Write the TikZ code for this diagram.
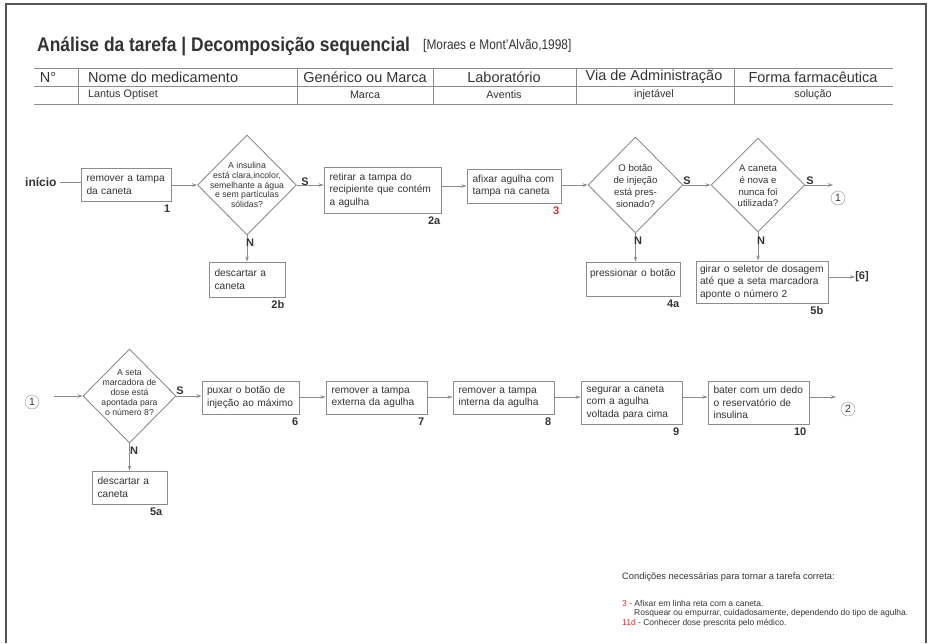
\documentclass[tikz,border=0pt]{standalone}
\usepackage{fontspec}
\setmainfont{Liberation Sans}
\newfontfamily\narrowfont[FakeStretch=0.85]{Liberation Sans}
\newfontfamily\titlefont[FakeStretch=0.88]{Liberation Sans}
\usetikzlibrary{shapes.geometric,arrows.meta}
\definecolor{ln}{HTML}{8C8C8C}
\definecolor{tx}{HTML}{333333}
\definecolor{rd}{HTML}{D03030}
\definecolor{fr}{HTML}{555555}
\begin{document}
\begin{tikzpicture}[x=1pt,y=-1pt,
 box/.style={draw=ln, line width=0.9pt, rectangle, inner xsep=5.5pt, inner ysep=3pt, align=left, text=tx, font=\fontsize{10.2}{12.5}\selectfont},
 dia/.style={draw=ln, line width=0.9pt, diamond, inner sep=0pt},
 dtext/.style={align=center, text=tx, inner sep=0pt},
 lab/.style={text=tx, font=\fontsize{11}{12}\selectfont\bfseries, inner sep=0pt},
 conn/.style={draw=ln, line width=0.9pt},
 arr/.style={conn, -{Stealth[length=5pt,width=3.5pt]}},
 circ/.style={draw=ln, circle, inner sep=0pt, minimum size=14pt, text=tx, font=\fontsize{10.5}{10.5}\selectfont},
 hd/.style={text=tx, font=\fontsize{14.5}{15}\selectfont, inner sep=0pt},
 rw/.style={text=tx, font=\fontsize{10.8}{12}\selectfont, inner sep=0pt},
 note/.style={text=tx, font=\fontsize{8.5}{9}\selectfont, inner sep=0pt, anchor=west},
]
\useasboundingbox (0,0) rectangle (931,643);
\draw[fr, line width=1.2pt] (6,643) -- (6,4) -- (926,4) -- (926,643);

% title
\node[anchor=west, text=tx, inner sep=0pt, font=\titlefont\fontsize{19.8}{21}\selectfont\bfseries] (title) at (37,46) {Análise da tarefa | Decomposição sequencial};
\node[anchor=west, text=tx, inner sep=0pt, font=\narrowfont\fontsize{14}{16}\selectfont] (ref) at (423,46) {[Moraes e Mont’Alvão,1998]};

% table
\draw[ln, line width=0.8pt] (34,68) -- (893,68) (34,86) -- (893,86) (34,104) -- (893,104);
\foreach \x in {78,297,433,576,734} \draw[ln, line width=0.8pt] (\x,68) -- (\x,104);
\node[hd] (h1) at (48,77) {N°};
\node[hd, anchor=west] (h2) at (88,77) {Nome do medicamento};
\node[hd] (h3) at (365,77) {Genérico ou Marca};
\node[hd] (h4) at (504,77) {Laboratório};
\node[hd] (h5) at (654,77) {Via de Administração};
\node[hd] (h6) at (813,77) {Forma farmacêutica};
\node[rw, anchor=west] (r2) at (88,95) {Lantus Optiset};
\node[rw] (r3) at (365,95) {Marca};
\node[rw] (r4) at (504,95) {Aventis};
\node[rw] (r5) at (654,95) {injetável};
\node[rw] (r6) at (813,95) {solução};

% row 1
\node[text=tx, font=\fontsize{12}{13}\selectfont\bfseries, inner sep=0pt, anchor=west] (ini) at (25,182) {início};
\node[box, text width=79pt, minimum height=33pt] (b1) at (126,184.5) {remover a tampa\\da caneta};
\node[dia, minimum width=99pt, minimum height=100pt] (d1) at (247,185) {};
\node[dtext, font=\fontsize{8.7}{9.8}\selectfont] (d1t) at (247,185) {A insulina\\está clara,incolor,\\semelhante a água\\e sem partículas\\sólidas?};
\node[box, text width=106pt, minimum height=46pt] (b2a) at (382.5,190) {retirar a tampa do\\recipiente que contém\\a agulha};
\node[box, text width=65pt, minimum height=35pt] (b2b) at (247,279.5) {descartar a\\caneta};
\node[box, text width=83pt, minimum height=34pt] (b3) at (514,186) {afixar agulha com\\tampa na caneta};
\node[dia, minimum width=95pt, minimum height=96pt] (d2) at (635.5,185) {};
\node[dtext, font=\fontsize{9.6}{12}\selectfont] (d2t) at (635.5,186) {O botão\\de injeção\\está pres-\\sionado?};
\node[box, inner xsep=4pt, text width=86pt, minimum height=34pt] (b4a) at (633,279) {pressionar o botão\\\mbox{}};
\node[dia, minimum width=94pt, minimum height=94pt] (d3) at (758,185) {};
\node[dtext, font=\fontsize{9.6}{11.7}\selectfont] (d3t) at (758,186) {A caneta\\é nova e\\nunca foi\\utilizada?};
\node[box, inner xsep=4pt, text width=124pt, minimum height=42pt] (b5b) at (762,282) {girar o seletor de dosagem\\até que a seta marcadora\\aponte o número 2};
\node[lab] (six) at (862,277) {[6]};
\node[circ] (c1a) at (838,198) {1};
\coordinate (e1) at (833,185);

\draw[conn] (ini.east) ++(3,0) coordinate (inis) -- (inis -| b1.west);
\draw[arr] (d1.west -| b1.east) -- (d1.west);
\draw[arr] (d1.east) -- (d1.east -| b2a.west);
\draw[arr] (d1.south) -- (d1.south |- b2b.north);
\draw[arr] (b3.west -| b2a.east) -- (b3.west);
\draw[arr] (d2.west -| b3.east) -- (d2.west);
\draw[arr] (d2.east) -- (d3.west);
\draw[arr] (d2.south) -- (d2.south |- b4a.north);
\draw[arr] (d3.east) -- (e1);
\draw[arr] (d3.south) -- (d3.south |- b5b.north);
\draw[arr] (six.west -| b5b.east) -- (six.west);

\node[lab] (s1) at (305,182) {S};
\node[lab] (n1) at (250,243) {N};
\node[lab] (s2) at (687,181) {S};
\node[lab] (n2) at (638,241) {N};
\node[lab] (s3) at (810,181) {S};
\node[lab] (n3) at (761,241) {N};

\node[lab, anchor=north east] (l1) at ([xshift=-1pt,yshift=-3pt]b1.south east) {1};
\node[lab, anchor=north east] (l2a) at ([xshift=-1pt,yshift=-3pt]b2a.south east) {2a};
\node[lab, anchor=north east] (l2b) at ([xshift=-1pt,yshift=-3pt]b2b.south east) {2b};
\node[lab, anchor=north east, text=rd] (l3) at ([xshift=-2pt,yshift=-3pt]b3.south east) {3};
\node[lab, anchor=north east] (l4a) at ([xshift=-1pt,yshift=-3pt]b4a.south east) {4a};
\node[lab, anchor=north east] (l5b) at ([xshift=-5pt,yshift=-3pt]b5b.south east) {5b};

% row 2
\node[circ] (c1b) at (32,402) {1};
\coordinate (r2s) at (54,396);
\node[dia, minimum width=93pt, minimum height=94pt] (d4) at (129.5,396) {};
\node[dtext, font=\fontsize{8.7}{10}\selectfont] (d4t) at (129.5,393) {A seta\\marcadora de\\dose está\\apontada para\\o número 8?};
\node[box, inner xsep=5pt, text width=87pt, minimum height=33pt] (b6) at (250.5,397.5) {puxar o botão de\\injeção ao máximo};
\node[box, text width=64pt, minimum height=33pt] (b5a) at (129.5,487.5) {descartar a\\caneta};
\node[box, text width=90pt, minimum height=33pt] (b7) at (376.5,397.5) {remover a tampa\\externa da agulha};
\node[box, text width=90pt, minimum height=33pt] (b8) at (503.5,397.5) {remover a tampa\\interna da agulha};
\node[box, text width=90pt, minimum height=43pt] (b9) at (631.5,402.5) {segurar a caneta\\com a agulha\\voltada para cima};
\node[box, text width=90pt, minimum height=43pt] (b10) at (758.5,402.5) {bater com um dedo\\o reservatório de\\insulina};
\coordinate (e2) at (836,397);
\node[circ] (c2) at (848,409) {2};

\draw[arr] (r2s) -- (d4.west);
\draw[arr] (d4.east) -- (d4.east -| b6.west);
\draw[arr] (d4.south) -- (d4.south |- b5a.north);
\draw[arr] (b6.east |- e2) -- (b7.west |- e2);
\draw[arr] (b7.east |- e2) -- (b8.west |- e2);
\draw[arr] (b8.east |- e2) -- (b9.west |- e2);
\draw[arr] (b9.east |- e2) -- (b10.west |- e2);
\draw[arr] (b10.east |- e2) -- (e2);

\node[lab] (s4) at (180,391) {S};
\node[lab] (n4) at (134,451) {N};
\node[lab, anchor=north east] (l6) at ([xshift=-1pt,yshift=-3pt]b6.south east) {6};
\node[lab, anchor=north east] (l5a) at ([xshift=-5pt,yshift=-3pt]b5a.south east) {5a};
\node[lab, anchor=north east] (l7) at ([xshift=-3pt,yshift=-3pt]b7.south east) {7};
\node[lab, anchor=north east] (l8) at ([xshift=-3pt,yshift=-3pt]b8.south east) {8};
\node[lab, anchor=north east] (l9) at ([xshift=-3pt,yshift=-3pt]b9.south east) {9};
\node[lab, anchor=north east] (l10) at ([xshift=-3pt,yshift=-3pt]b10.south east) {10};

% notes
\node[note, font=\fontsize{9.3}{10}\selectfont] (nt0) at (622,577) {Condições necessárias para tornar a tarefa correta:};
\node[note] (nt1) at (622,603) {\textcolor{rd}{3} - Afixar em linha reta com a caneta.};
\node[note] (nt2) at (634,613) {Rosquear ou empurrar, cuidadosamente, dependendo do tipo de agulha.};
\node[note] (nt3) at (622,623) {\textcolor{rd}{11d} - Conhecer dose prescrita pelo médico.};
\end{tikzpicture}
\end{document}
